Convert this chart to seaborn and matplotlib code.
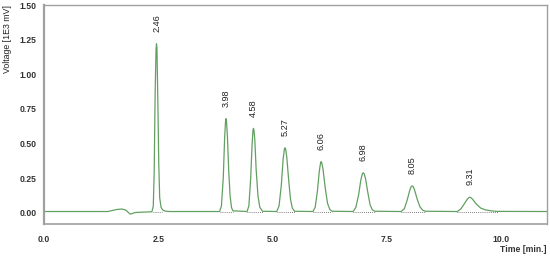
import matplotlib
matplotlib.use("Agg")
import matplotlib.pyplot as plt
import seaborn as sns
import pandas as pd

# Chromatogram trace (time in min, voltage in 1E3 mV)
time = [0.00, 1.40, 1.50, 1.60, 1.70, 1.78, 1.84, 1.88, 1.92, 1.98, 2.05, 2.20, 2.36,
        2.39, 2.41, 2.43, 2.45, 2.46, 2.47, 2.49, 2.51, 2.53, 2.56, 2.60, 2.66, 2.75,
        3.84, 3.88, 3.92, 3.95, 3.97, 3.98, 3.99, 4.01, 4.04, 4.07, 4.10, 4.13,
        4.44, 4.48, 4.52, 4.55, 4.57, 4.58, 4.59, 4.61, 4.64, 4.68, 4.72, 4.78,
        5.09, 5.14, 5.19, 5.23, 5.255, 5.27, 5.285, 5.31, 5.35, 5.39, 5.43, 5.48,
        5.88, 5.93, 5.98, 6.02, 6.045, 6.06, 6.075, 6.10, 6.15, 6.20, 6.25, 6.30,
        6.76, 6.82, 6.88, 6.93, 6.96, 6.98, 7.00, 7.03, 7.08, 7.13, 7.18, 7.24,
        7.81, 7.88, 7.94, 8.00, 8.03, 8.05, 8.07, 8.10, 8.16, 8.22, 8.28, 8.34,
        9.04, 9.12, 9.20, 9.26, 9.29, 9.31, 9.33, 9.37, 9.45, 9.55, 9.65, 9.80, 9.92, 11.00]
voltage = [0.010, 0.010, 0.018, 0.025, 0.028, 0.022, 0.005, -0.008, -0.006, 0.002, 0.004, 0.006, 0.008,
           0.050, 0.300, 0.850, 1.180, 1.220, 1.190, 0.800, 0.350, 0.110, 0.040, 0.020, 0.012, 0.010,
           0.010, 0.050, 0.250, 0.540, 0.660, 0.680, 0.665, 0.560, 0.300, 0.120, 0.040, 0.015,
           0.010, 0.050, 0.250, 0.490, 0.595, 0.610, 0.600, 0.530, 0.310, 0.120, 0.040, 0.012,
           0.010, 0.050, 0.200, 0.390, 0.455, 0.470, 0.460, 0.400, 0.240, 0.100, 0.035, 0.012,
           0.010, 0.040, 0.160, 0.300, 0.355, 0.370, 0.360, 0.320, 0.180, 0.070, 0.025, 0.012,
           0.010, 0.040, 0.130, 0.240, 0.280, 0.290, 0.283, 0.250, 0.150, 0.060, 0.022, 0.012,
           0.010, 0.030, 0.090, 0.165, 0.190, 0.195, 0.191, 0.170, 0.100, 0.045, 0.020, 0.012,
           0.010, 0.030, 0.070, 0.100, 0.110, 0.113, 0.111, 0.100, 0.065, 0.035, 0.022, 0.014, 0.011, 0.010]

# Peaks: retention time labels, apex heights, integration start/end
peak_labels = ["2.46", "3.98", "4.58", "5.27", "6.06", "6.98", "8.05", "9.31"]
peak_time = [2.46, 3.98, 4.58, 5.27, 6.06, 6.98, 8.05, 9.31]
peak_height = [1.22, 0.68, 0.61, 0.47, 0.37, 0.29, 0.195, 0.113]
peak_start = [2.38, 3.84, 4.44, 5.09, 5.88, 6.76, 7.81, 9.04]
peak_end = [2.58, 4.13, 4.78, 5.48, 6.30, 7.24, 8.34, 9.92]
baseline = 0.010

y_ticks = [0.0, 0.25, 0.5, 0.75, 1.0, 1.25, 1.5]
y_ticklabels = ["0.00", "0.25", "0.50", "0.75", "1.00", "1.25", "1.50"]
x_ticks = [0.0, 2.5, 5.0, 7.5, 10.0]
x_ticklabels = ["0.0", "2.5", "5.0", "7.5", "10.0"]

sns.set_style("white")
plt.rcParams['font.family'] = ['Liberation Sans', 'DejaVu Sans']

df = pd.DataFrame({"Time": time, "Voltage": voltage})

fig = plt.figure(figsize=(5.5, 2.58), dpi=100)
ax = fig.add_axes([44 / 550, 1 - 224 / 258, 503 / 550, 219 / 258])

# integration baselines (dotted)
for s, e in zip(peak_start, peak_end):
    ax.plot([s, e], [baseline, baseline], color="#555555", lw=0.6, ls=(0, (1, 1.5)))

sns.lineplot(data=df, x="Time", y="Voltage", ax=ax, color="#62a062", lw=0.9,
             estimator=None, sort=False)

for lab, t, h in zip(peak_labels, peak_time, peak_height):
    ax.annotate(lab, xy=(t, h), xytext=(0, 8.5), textcoords="offset points",
                rotation=90, ha="center", va="bottom", fontsize=6.6, color="#222222")

ax.set_xlim(0, 11)
ax.set_ylim(-0.08, 1.5)
ax.set_xticks(x_ticks)
ax.set_xticklabels(x_ticklabels, fontsize=6.2, fontweight="bold", color="#333333")
ax.set_yticks(y_ticks)
ax.set_yticklabels(y_ticklabels, fontsize=6.2, fontweight="bold", color="#333333")
ax.tick_params(axis="both", direction="out", length=3, width=0.8, color="#999999")
ax.tick_params(axis="y", pad=2.5)
ax.tick_params(axis="x", pad=5)
ax.set_xlabel("")
ax.set_ylabel("")

for side, sp in ax.spines.items():
    sp.set_visible(True)
    sp.set_color("#a0a0a0")
    sp.set_linewidth(1.0)
ax.spines["left"].set_linewidth(1.6)
ax.spines["bottom"].set_linewidth(1.2)

fig.text(8 / 550, 1 - 5 / 258, "Voltage [1E3 mV]", rotation=90, ha="center", va="top",
         fontsize=6.3, color="#222222")
fig.text(547 / 550, 1 - 250 / 258, "Time [min.]", ha="right", va="center",
         fontsize=6.2, fontweight="bold", color="#333333")

fig.savefig("out.png", dpi=100)
plt.close(fig)
